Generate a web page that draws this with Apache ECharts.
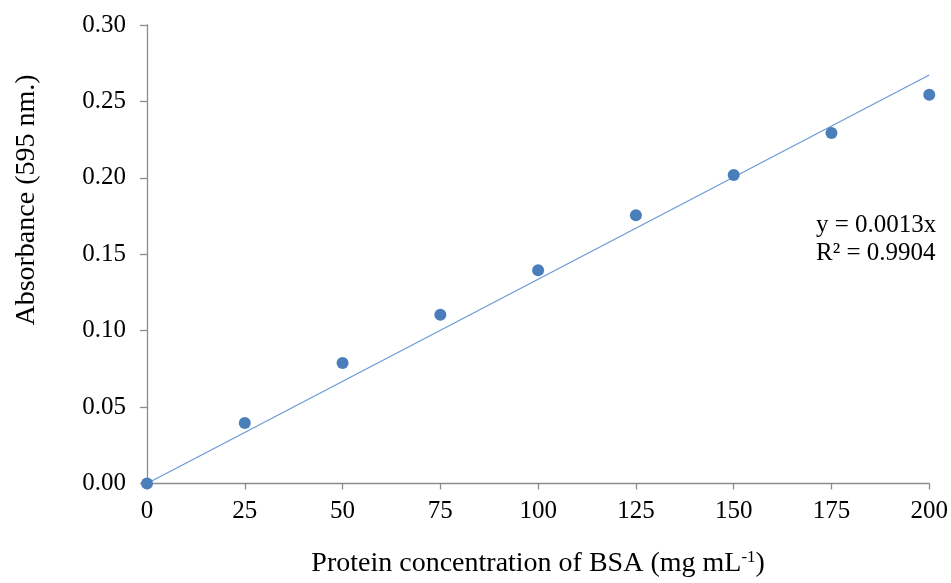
<!DOCTYPE html>
<html>
<head>
<meta charset="utf-8">
<script src="https://cdn.jsdelivr.net/npm/echarts@6/dist/echarts.min.js"></script>
<style>
  html, body { margin: 0; padding: 0; background: #fff; }
  #chart { width: 951px; height: 583px; }
</style>
</head>
<body>
<div id="chart"></div>
<script>
// BSA standard curve: concentration (mg/mL) vs absorbance at 595 nm
const concentrations = [0, 25, 50, 75, 100, 125, 150, 175, 200];
const absorbances = [0, 0.0396, 0.0789, 0.1104, 0.1396, 0.1755, 0.2018, 0.2294, 0.2544];
const equationLines = ['y = 0.0013x', 'R² = 0.9904'];
const yTitle = 'Absorbance (595 nm.)';

// Linear trendline forced through the origin (least squares)
let sxy = 0, sxx = 0;
concentrations.forEach((x, i) => { sxy += x * absorbances[i]; sxx += x * x; });
const slope = sxy / sxx;
const xMax = concentrations[concentrations.length - 1];
const trend = [[0, 0], [xMax, slope * xMax]];

const points = concentrations.map((x, i) => [x, absorbances[i]]);
const serif = '"Liberation Serif", "Times New Roman", serif';
const axisGrey = '#8c8c8c';

const chart = echarts.init(document.getElementById('chart'));
chart.setOption({
  animation: false,
  textStyle: { fontFamily: serif },
  grid: { left: 147, right: 21, top: 25, bottom: 98, containLabel: false },
  xAxis: {
    type: 'value',
    min: 0, max: 200, interval: 25,
    splitLine: { show: false },
    axisLine: { lineStyle: { color: axisGrey, width: 1.3 } },
    axisTick: { show: true, length: 6, lineStyle: { color: axisGrey, width: 1.3 } },
    axisLabel: { color: '#000', fontSize: 25, fontFamily: serif, margin: 15 },
    name: 'Protein concentration of BSA (mg mL{sup|-1})',
    nameLocation: 'middle',
    nameGap: 66,
    nameTextStyle: {
      color: '#000', fontSize: 28, fontFamily: serif,
      rich: { sup: { fontSize: 17, fontFamily: serif, color: '#000', verticalAlign: 'top', padding: [0, 0, 12, 0] } }
    }
  },
  yAxis: {
    type: 'value',
    min: 0, max: 0.30, interval: 0.05,
    splitLine: { show: false },
    axisLine: { lineStyle: { color: axisGrey, width: 1.3 } },
    axisTick: { show: true, length: 7, lineStyle: { color: axisGrey, width: 1.3 } },
    axisLabel: { color: '#000', fontSize: 25, fontFamily: serif, margin: 21,
      formatter: v => v.toFixed(2) }
  },
  series: [
    {
      type: 'line',
      data: trend,
      symbol: 'none',
      lineStyle: { color: '#6b9bd6', width: 1.3 },
      z: 2
    },
    {
      type: 'scatter',
      data: points,
      symbol: 'circle',
      symbolSize: 12,
      itemStyle: { color: '#4a7ebb', opacity: 1 },
      z: 3
    }
  ],
  graphic: [
    {
      type: 'text',
      x: 27,
      y: 200,
      rotation: Math.PI / 2,
      style: {
        text: yTitle,
        fill: '#000',
        font: '28px ' + serif,
        align: 'center',
        verticalAlign: 'middle'
      }
    },
    {
      type: 'text',
      left: 816,
      top: 211,
      style: {
        text: equationLines.join('\n'),
        fill: '#000',
        font: '25px ' + serif,
        lineHeight: 28
      }
    }
  ]
});
</script>
</body>
</html>
